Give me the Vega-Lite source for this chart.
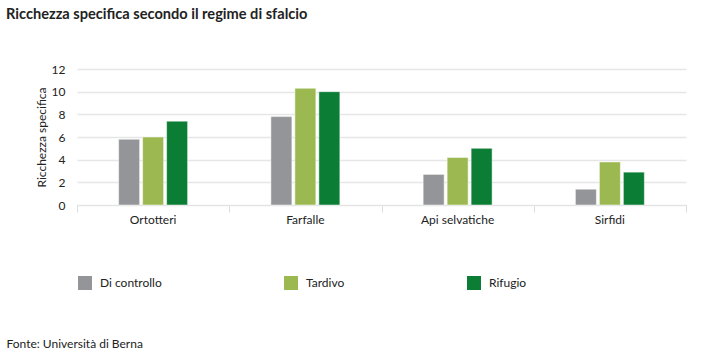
{
  "$schema": "https://vega.github.io/schema/vega-lite/v6.json",
  "width": 609,
  "height": 136,
  "autosize": {"type": "none"},
  "padding": {"left": 77, "top": 69, "right": 34, "bottom": 146},
  "background": "#ffffff",
  "title": {
    "text": "Ricchezza specifica secondo il regime di sfalcio",
    "anchor": "start",
    "frame": "group",
    "dx": -71,
    "offset": 41,
    "font": "Lato",
    "fontSize": 14.6,
    "fontWeight": "bold",
    "color": "#222222"
  },
  "data": {
    "values": [
      {"gruppo": "Ortotteri", "regime": "Di controllo", "valore": 5.8},
      {"gruppo": "Ortotteri", "regime": "Tardivo", "valore": 6.0},
      {"gruppo": "Ortotteri", "regime": "Rifugio", "valore": 7.4},
      {"gruppo": "Farfalle", "regime": "Di controllo", "valore": 7.8},
      {"gruppo": "Farfalle", "regime": "Tardivo", "valore": 10.3},
      {"gruppo": "Farfalle", "regime": "Rifugio", "valore": 10.0},
      {"gruppo": "Api selvatiche", "regime": "Di controllo", "valore": 2.7},
      {"gruppo": "Api selvatiche", "regime": "Tardivo", "valore": 4.2},
      {"gruppo": "Api selvatiche", "regime": "Rifugio", "valore": 5.0},
      {"gruppo": "Sirfidi", "regime": "Di controllo", "valore": 1.4},
      {"gruppo": "Sirfidi", "regime": "Tardivo", "valore": 3.8},
      {"gruppo": "Sirfidi", "regime": "Rifugio", "valore": 2.9}
    ]
  },
  "encoding": {
    "y": {
      "field": "valore",
      "type": "quantitative",
      "scale": {"domain": [0, 12]},
      "axis": {
        "title": "Ricchezza specifica",
        "titleFont": "Lato",
        "titleFontSize": 12,
        "titleFontWeight": "normal",
        "titleColor": "#222222",
        "titlePadding": 3,
        "values": [0, 2, 4, 6, 8, 10, 12],
        "labelFont": "Lato",
        "labelFontSize": 12,
        "labelColor": "#222222",
        "labelPadding": 12,
        "ticks": false,
        "domain": false,
        "gridColor": "#e6e6e6",
        "gridWidth": 1.5
      }
    }
  },
  "layer": [
    {
      "mark": {"type": "point", "opacity": 0},
      "encoding": {
        "x": {
          "field": "gruppo",
          "type": "nominal",
          "sort": ["Ortotteri", "Farfalle", "Api selvatiche", "Sirfidi"],
          "scale": {"paddingInner": 0, "paddingOuter": 0},
          "axis": {
            "orient": "bottom",
            "title": null,
            "labels": false,
            "domain": false,
            "tickBand": "extent",
            "tickColor": "#dddddd",
            "tickSize": 7
          }
        }
      }
    },
    {
      "mark": {"type": "bar", "stroke": "#ffffff", "strokeWidth": 0.5},
      "encoding": {
        "x": {
          "field": "gruppo",
          "type": "nominal",
          "sort": ["Ortotteri", "Farfalle", "Api selvatiche", "Sirfidi"],
          "scale": {"paddingInner": 0.547, "paddingOuter": 0.2735},
          "axis": {
            "orient": "bottom",
            "title": "Fonte: Università di Berna",
            "titleX": -71,
            "titleY": 138,
            "titleAnchor": "start",
            "titleAlign": "left",
            "titleBaseline": "middle",
            "titleFont": "Lato",
            "titleFontSize": 12,
            "titleFontWeight": "normal",
            "titleColor": "#222222",
            "labelAngle": 0,
            "labelFont": "Lato",
            "labelFontSize": 12,
            "labelColor": "#222222",
            "labelPadding": 9,
            "ticks": false,
            "domainColor": "#e3e3e3"
          }
        },
        "xOffset": {
          "field": "regime",
          "type": "nominal",
          "sort": ["Di controllo", "Tardivo", "Rifugio"],
          "scale": {"paddingInner": 0.125, "paddingOuter": 0}
        },
        "color": {
          "field": "regime",
          "type": "nominal",
          "sort": ["Di controllo", "Tardivo", "Rifugio"],
          "scale": {
            "domain": ["Di controllo", "Tardivo", "Rifugio"],
            "range": ["#939598", "#9bb950", "#0b7d34"]
          },
          "legend": {
            "title": null,
            "orient": "none",
            "legendX": 1,
            "legendY": 207,
            "direction": "horizontal",
            "symbolType": "square",
            "symbolSize": 196,
            "symbolStrokeWidth": 0,
            "labelFont": "Lato",
            "labelFontSize": 12,
            "labelColor": "#222222",
            "labelOffset": 8,
            "columnPadding": 122
          }
        }
      }
    }
  ],
  "resolve": {"scale": {"x": "independent"}, "axis": {"x": "independent"}},
  "config": {
    "view": {"stroke": null}
  }
}
